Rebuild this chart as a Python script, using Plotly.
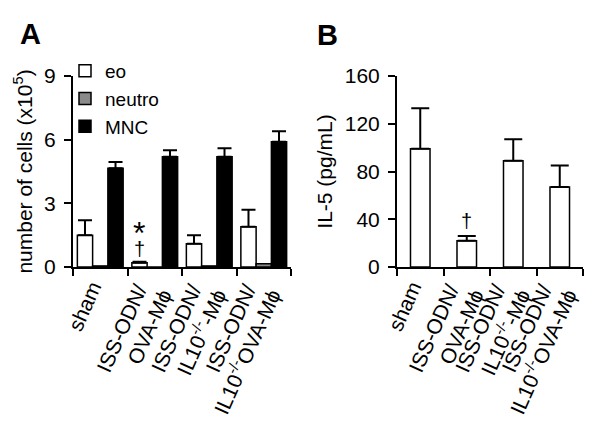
import plotly.graph_objects as go

# ---- data ----
categories = ["sham", "ISS-ODN/<br>OVA-Mϕ", "ISS-ODN/<br>IL10<sup>-/-</sup>-Mϕ", "ISS-ODN/<br>IL10<sup>-/-</sup>OVA-Mϕ"]
cat_idx = [0, 1, 2, 3]
boundaries = [-0.5, 0.5, 1.5, 2.5, 3.5]

eo = [1.5, 0.2, 1.1, 1.9]
eo_err = [0.7, 0.05, 0.4, 0.8]
neutro = [0.05, 0.0, 0.05, 0.15]
mnc = [4.65, 5.2, 5.2, 5.9]
mnc_err = [0.3, 0.3, 0.4, 0.5]

il5 = [99, 22, 89, 67]
il5_err = [34, 4, 18, 18]

# split tick labels into lines
single = [c if "<br>" not in c else "" for c in categories]
line1 = [c.split("<br>")[0] if "<br>" in c else "" for c in categories]
line2 = [c.split("<br>")[1] if "<br>" in c else "" for c in categories]

FONT = "Liberation Sans, Arial, sans-serif"
OFF = 8  # page body margin


def px(x):
    return (x - OFF) / 600


def py(y):
    return 1 - (y - OFF) / 434


fig = go.Figure()
ebar = dict(type="data", symmetric=False, color="black", thickness=2)
fig.add_trace(go.Bar(x=cat_idx, y=eo, name="eo", marker=dict(color="white", line=dict(color="black", width=1.5)),
                     error_y=dict(array=eo_err, arrayminus=[0]*4, width=7, **ebar), xaxis="x", yaxis="y"))
fig.add_trace(go.Bar(x=cat_idx, y=neutro, name="neutro", marker=dict(color="#8a8a8a", line=dict(color="black", width=1.5)),
                     xaxis="x", yaxis="y"))
fig.add_trace(go.Bar(x=cat_idx, y=mnc, name="MNC", marker=dict(color="black", line=dict(color="black", width=1.5)),
                     error_y=dict(array=mnc_err, arrayminus=[0]*4, width=7, **ebar), xaxis="x", yaxis="y"))
fig.add_trace(go.Bar(x=cat_idx, y=il5, name="IL-5", showlegend=False, width=0.42, offsetgroup="b",
                     marker=dict(color="white", line=dict(color="black", width=1.5)),
                     error_y=dict(array=il5_err, arrayminus=[0]*4, width=9, **ebar), xaxis="x2", yaxis="y2"))

# empty helper traces so the label-only axes are drawn
for xa, ya in [("x3", "y"), ("x4", "y"), ("x5", "y"), ("x6", "y2"), ("x7", "y2"), ("x8", "y2")]:
    fig.add_trace(go.Scatter(x=[None], y=[None], xaxis=xa, yaxis=ya, showlegend=False, hoverinfo="skip",
                             mode="markers"))

ANG = -66
tfont = dict(size=21, color="black", family=FONT)
main_x = dict(tickmode="array", tickvals=boundaries, ticktext=[""]*5, range=[-0.5, 3.5],
              showline=True, linecolor="black", linewidth=2, ticks="outside", ticklen=7, tickwidth=2,
              tickcolor="black", showgrid=False, zeroline=False, automargin=False)


def label_axis(over, anchor, texts, shift, standoff):
    return dict(overlaying=over, anchor=anchor, tickmode="array", tickvals=cat_idx, ticktext=texts,
                range=[-0.5, 3.5], showline=False, ticks="", showgrid=False, zeroline=False,
                automargin=False, tickangle=ANG, tickfont=tfont, ticklabelshift=shift,
                ticklabelstandoff=standoff)


ycommon = dict(showline=True, linecolor="black", linewidth=2, ticks="outside", ticklen=7, tickwidth=2,
               tickcolor="black", tickfont=tfont, showgrid=False,
               zeroline=False, automargin=False, ticklabelstandoff=4)

fig.update_layout(
    width=600, height=434, margin=dict(l=0, r=0, t=0, b=0),
    paper_bgcolor="white", plot_bgcolor="white",
    font=dict(family=FONT, color="black", size=21),
    barmode="group", bargap=0.16, bargroupgap=0,
    xaxis=dict(domain=[px(73), px(291)], anchor="y", **main_x),
    yaxis=dict(domain=[py(267), py(76)], anchor="x", range=[0, 9], tickvals=[0, 3, 6, 9],
               title=dict(text="number of cells (x10<sup>5</sup>)", font=dict(size=21), standoff=6), **ycommon),
    xaxis2=dict(domain=[px(397), px(583)], anchor="y2", **main_x),
    yaxis2=dict(domain=[py(267), py(76)], anchor="x2", range=[0, 160], tickvals=[0, 40, 80, 120, 160],
                title=dict(text="IL-5 (pg/mL)", font=dict(size=21), standoff=6), **ycommon),
    xaxis3=label_axis("x", "y", single, -8, 3),
    xaxis4=label_axis("x", "y", line1, -17, 6),
    xaxis5=label_axis("x", "y", line2, 8, 11),
    xaxis6=label_axis("x2", "y2", single, -8, 3),
    xaxis7=label_axis("x2", "y2", line1, -17, 6),
    xaxis8=label_axis("x2", "y2", line2, 8, 11),
    legend=dict(x=px(65), y=py(52), xanchor="left", yanchor="top", bgcolor="rgba(0,0,0,0)",
                font=dict(size=19, family=FONT, color="black"), itemclick=False),
    showlegend=True,
)

ann = dict(showarrow=False, xanchor="center", yanchor="middle")
fig.add_annotation(text="<b>A</b>", x=px(30.5), y=py(34), xref="paper", yref="paper",
                   font=dict(size=29, family=FONT, color="black"), **ann)
fig.add_annotation(text="<b>B</b>", x=px(327), y=py(35.5), xref="paper", yref="paper",
                   font=dict(size=29, family=FONT, color="black"), **ann)
fig.add_annotation(text="*", x=1 - 0.28, y=1.6, xref="x", yref="y",
                   font=dict(size=32, family=FONT, color="black"), **ann)
fig.add_annotation(text="†", x=1 - 0.28, y=0.85, xref="x", yref="y",
                   font=dict(size=20, family=FONT, color="black"), **ann)
fig.add_annotation(text="†", x=1, y=38.5, xref="x2", yref="y2",
                   font=dict(size=20, family=FONT, color="black"), **ann)

fig.write_html("out.html")
